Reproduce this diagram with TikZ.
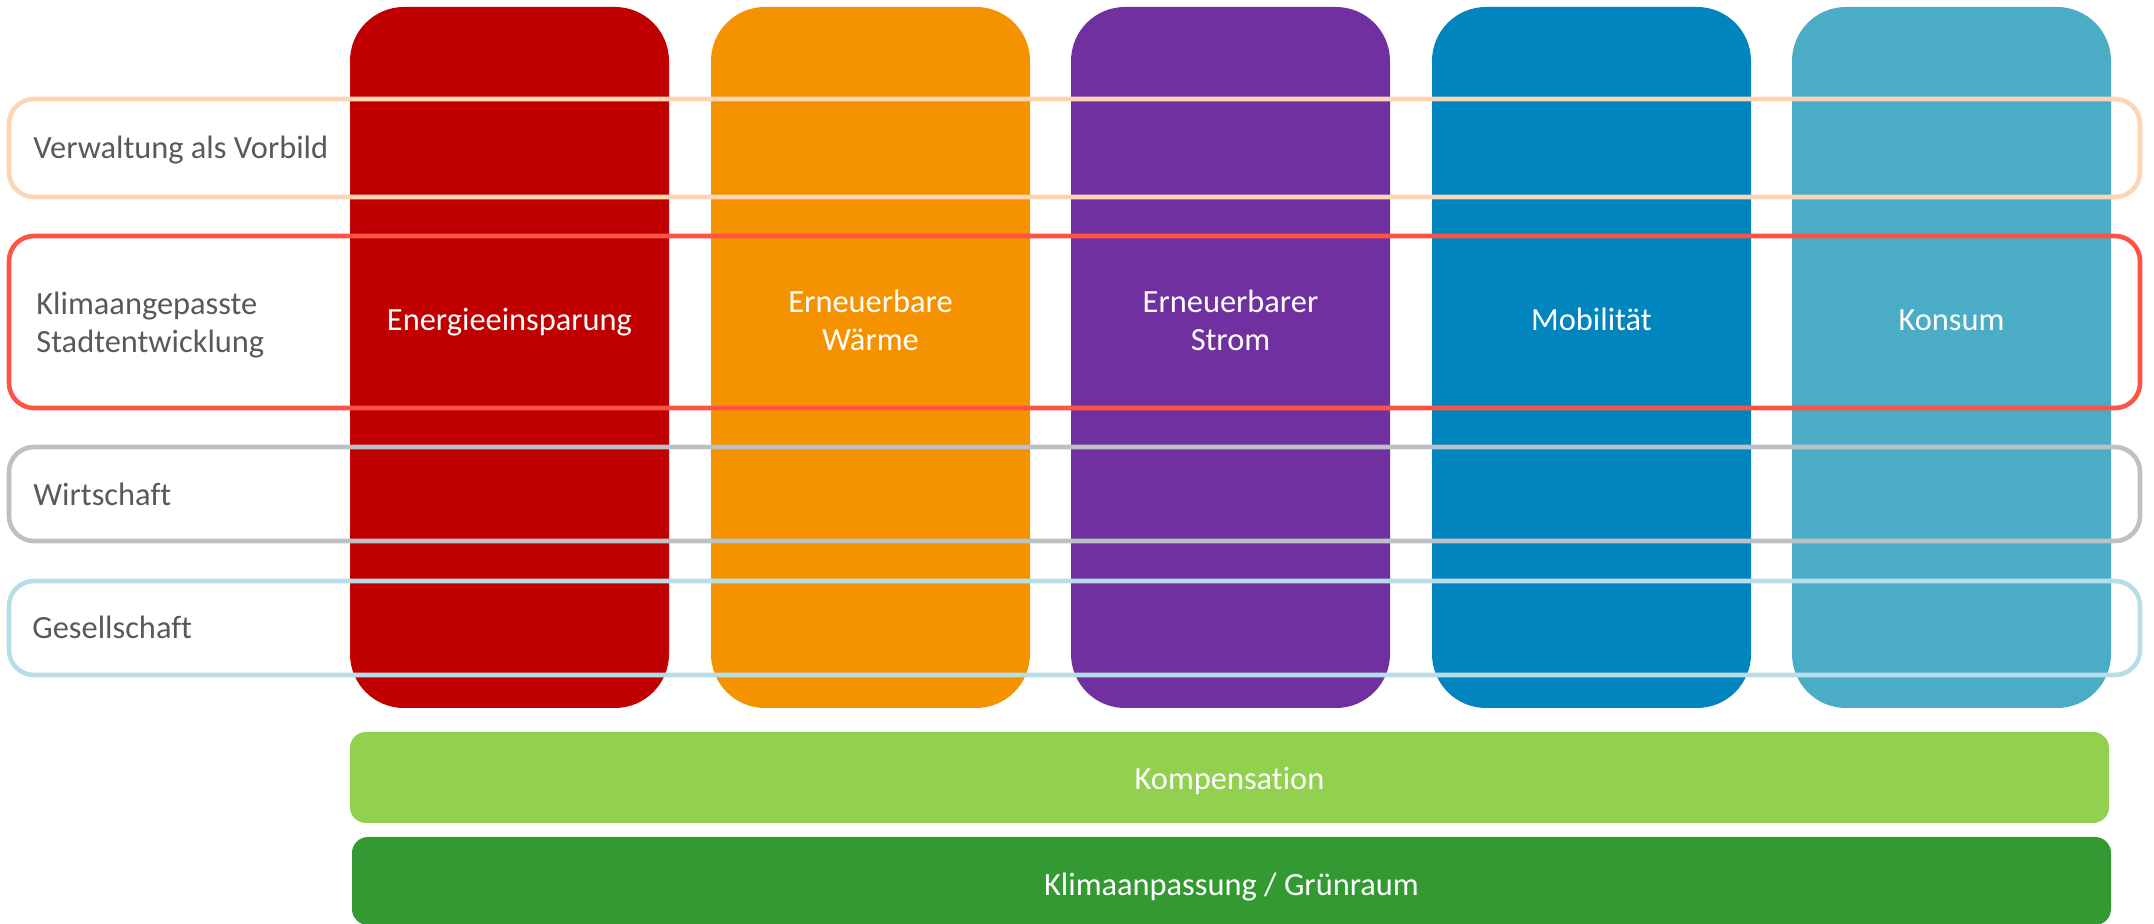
\documentclass[tikz,border=0pt]{standalone}
\usepackage{fontspec}
\setmainfont{Carlito}[Ligatures=NoCommon]
\definecolor{colred}{HTML}{C00000}
\definecolor{colorange}{HTML}{F59200}
\definecolor{colpurple}{HTML}{7030A0}
\definecolor{colblue}{HTML}{0085BE}
\definecolor{colteal}{HTML}{4BACC6}
\definecolor{barlight}{HTML}{92D050}
\definecolor{bardark}{HTML}{339933}
\definecolor{rowpeach}{HTML}{FCD5B5}
\definecolor{rowred}{HTML}{FF5343}
\definecolor{rowgray}{HTML}{BCC1C6}
\definecolor{rowblue}{HTML}{B7DEE8}
\definecolor{labelgray}{HTML}{595959}
\begin{document}
\begin{tikzpicture}[x=0.5pt, y=-0.5pt,
    col/.style = {rectangle, inner sep=0pt, minimum width=159.5pt, minimum height=350.5pt, rounded corners=27pt},
    row/.style = {rectangle, draw, line width=2.3pt, inner sep=0pt, minimum width=1065.5pt, rounded corners=12.5pt},
    bar/.style = {rectangle, inner sep=0pt, minimum width=879.5pt, rounded corners=8pt},
    coltext/.style = {text=white, inner sep=0pt, align=center, anchor=base, font=\fontsize{16.2}{19}\selectfont},
    rowtext/.style = {text=labelgray, inner sep=0pt, align=left, anchor=base west, font=\fontsize{16.2}{19}\selectfont}]
    \useasboundingbox (0,0) rectangle (2154,924);

    \node[col, fill=colred] (c1) at (509.5,357.5) {};
    \node[col, fill=colorange] (c2) at (870.5,357.5) {};
    \node[col, fill=colpurple] (c3) at (1230.5,357.5) {};
    \node[col, fill=colblue] (c4) at (1591.5,357.5) {};
    \node[col, fill=colteal] (c5) at (1951.5,357.5) {};

    \node[coltext] (t1) at (509.5,331) {Energieeinsparung};
    \node[coltext] (t2) at (870.5,351) {Erneuerbare\\Wärme};
    \node[coltext] (t3) at (1230.5,351) {Erneuerbarer\\Strom};
    \node[coltext] (t4) at (1591.5,331) {Mobilität};
    \node[coltext] (t5) at (1951.5,331) {Konsum};

    \node[row, draw=rowpeach, minimum height=49pt] (r1) at (1074.5,148) {};
    \node[row, draw=rowred, minimum height=86pt] (r2) at (1074.5,322) {};
    \node[row, draw=rowgray, minimum height=47pt] (r3) at (1074.5,494) {};
    \node[row, draw=rowblue, minimum height=47pt] (r4) at (1074.5,628) {};

    \node[rowtext] (l1) at (33,159) {Verwaltung als Vorbild};
    \node[rowtext] (l2) at (36,353) {Klimaangepasste\\Stadtentwicklung};
    \node[rowtext] (l3) at (33,506) {Wirtschaft};
    \node[rowtext] (l4) at (32,639) {Gesellschaft};

    \node[bar, fill=barlight, minimum height=45.5pt] (b1) at (1229.5,777.5) {};
    \node[bar, fill=bardark, minimum height=44pt] (b2) at (1231.5,881) {};
    \node[coltext] (k1) at (1229.5,790) {Kompensation};
    \node[coltext] (k2) at (1231.5,895) {Klimaanpassung / Grünraum};
\end{tikzpicture}
\end{document}
